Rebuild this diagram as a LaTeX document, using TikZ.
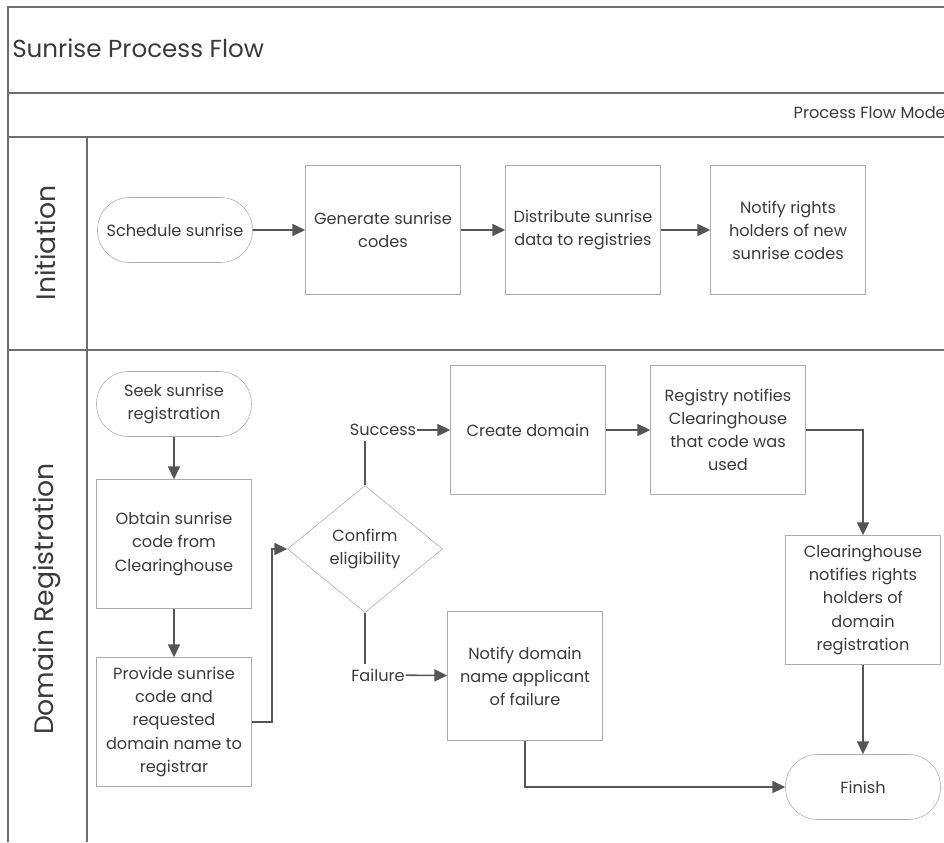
\documentclass[tikz,border=0pt]{standalone}
\usepackage{fontspec}
\setmainfont{Poppins}
\usetikzlibrary{positioning,shapes.geometric,arrows.meta}
\definecolor{inkgray}{HTML}{3A3A3A}
\definecolor{boxgray}{HTML}{ABABAB}
\definecolor{linegray}{HTML}{555555}
\definecolor{framegray}{HTML}{6E6E6E}
\begin{document}
\begin{tikzpicture}[x=0.25mm,y=-0.25mm,
	every node/.style={text=inkgray,font=\fontsize{11.5}{16.4}\selectfont},
	stepbox/.style={draw=boxgray,line width=0.4pt,minimum width=38.75mm,minimum height=32.25mm,align=center,inner sep=2pt},
	endcap/.style={draw=boxgray,line width=0.4pt,rounded corners=8mm,minimum width=38.75mm,minimum height=16.25mm,align=center,inner sep=2pt},
	choice/.style={draw=boxgray,line width=0.4pt,diamond,minimum width=38.75mm,minimum height=31.75mm,align=center,inner sep=0pt},
	outcome/.style={inner xsep=0.5pt},
	flowline/.style={draw=linegray,line width=1.1pt,-{Triangle[length=3.2mm,width=3mm]}},
	plainline/.style={draw=linegray,line width=1.1pt},
	lane/.style={draw=framegray,line width=0.9pt}]
		\useasboundingbox (0,0) rectangle (944,842);
		\draw[lane] (8,842) -- (8,7) -- (944,7);
		\draw[lane] (8,93) -- (944,93);
		\draw[lane] (8,137) -- (944,137);
		\draw[lane] (8,350) -- (944,350);
		\draw[lane] (87,137) -- (87,842);
		
		\node[anchor=west,inner sep=0pt,font=\fontsize{17.5}{20}\selectfont] (title) at (12,48) {Sunrise Process Flow};
		\node[anchor=east,inner sep=0pt] (model) at (946,113) {Process Flow Mode};
		\node[rotate=90,font=\fontsize{19}{22}\selectfont] (initlane) at (45,243) {Initiation};
		\node[rotate=90,font=\fontsize{19}{22}\selectfont] (reglane) at (47,599) {Domain Registration};
		
		\node[endcap] (sched) at (175,230) {Schedule sunrise};
		\node[stepbox] (gen) at (383,230) {Generate sunrise\\codes};
		\node[stepbox] (dist) at (583,230) {Distribute sunrise\\data to registries};
		\node[stepbox] (notr) at (788,230) {Notify rights\\holders of new\\sunrise codes};
		
		\node[endcap] (seek) at (174,404) {Seek sunrise\\registration};
		\node[stepbox] (obtain) at (174,544) {Obtain sunrise\\code from\\Clearinghouse};
		\node[stepbox] (provide) at (174,722) {Provide sunrise\\code and\\requested\\domain name to\\registrar};
		\node[choice] (confirm) at (365,549) {Confirm\\eligibility};
		\node[outcome] (succ) at (383,430) {Success};
		\node[outcome] (fail) at (378,675) {Failure};
		\node[stepbox] (create) at (528,430) {Create domain};
		\node[stepbox] (registry) at (728,430) {Registry notifies\\Clearinghouse\\that code was\\used};
		\node[stepbox] (notd) at (525,676) {Notify domain\\name applicant\\of failure};
		\node[stepbox] (clear) at (863,600) {Clearinghouse\\notifies rights\\holders of\\domain\\registration};
		\node[endcap] (finish) at (863,787) {Finish};
		
		\draw[flowline] (sched) -- (gen);
		\draw[flowline] (gen) -- (dist);
		\draw[flowline] (dist) -- (notr);
		\draw[flowline] (seek) -- (obtain);
		\draw[flowline] (obtain) -- (provide);
		\draw[flowline] (provide.east) -- ++(20,0) |- (confirm.west);
		\draw[plainline] (confirm.north) -- (confirm.north |- succ.south);
		\draw[plainline] (confirm.south) -- (confirm.south |- fail.north);
		\draw[flowline] (succ) -- (create);
		\draw[flowline] (fail) -- (notd);
		\draw[flowline] (create) -- (registry);
		\draw[flowline] (registry.east) -| (clear.north);
		\draw[flowline] (clear) -- (finish);
		\draw[flowline] (notd.south) |- (finish.west);
		\end{tikzpicture}
\end{document}
